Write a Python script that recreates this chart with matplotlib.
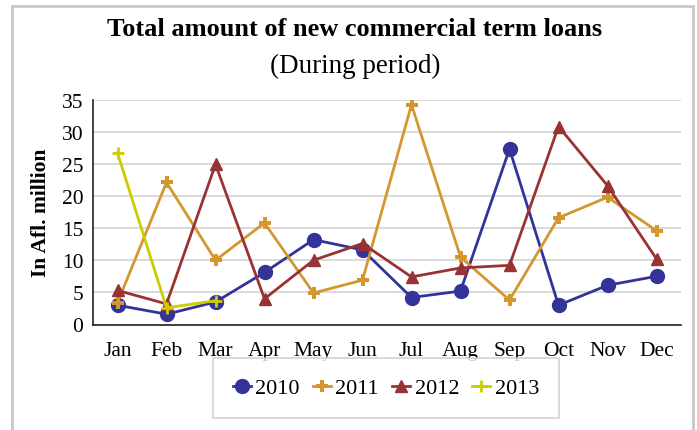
import matplotlib
matplotlib.use("Agg")
import matplotlib.pyplot as plt
from matplotlib.patches import Rectangle

months = ["Jan", "Feb", "Mar", "Apr", "May", "Jun", "Jul", "Aug", "Sep", "Oct", "Nov", "Dec"]
loans_2010 = [3.0, 1.6, 3.5, 8.1, 13.2, 11.6, 4.2, 5.2, 27.3, 3.0, 6.1, 7.5]
loans_2011 = [3.4, 22.1, 10.0, 15.8, 4.9, 6.9, 34.2, 10.5, 3.8, 16.6, 19.8, 14.6]
loans_2012 = [5.3, 3.2, 24.9, 4.0, 10.0, 12.6, 7.4, 8.8, 9.2, 30.8, 21.6, 10.2]
loans_2013 = [26.7, 2.6, 3.7]
yticks = [0, 5, 10, 15, 20, 25, 30, 35]

plt.rcParams["font.family"] = ["Liberation Serif", "DejaVu Serif"]

fig = plt.figure(figsize=(6.97, 4.31), dpi=100)
# outer frame of the chart area
fig.patches.append(Rectangle((12 / 697, -0.05), (693 - 12) / 697, 1.05 - 7 / 431,
                             transform=fig.transFigure, fill=False,
                             edgecolor="#c8c8c8", linewidth=2.0))

ax = fig.add_axes([93 / 697, (431 - 325.5) / 431, (681 - 93) / 697, (325.5 - 100.5) / 431])
x = list(range(len(months)))

ax.plot(x, loans_2010, color="#333399", marker="o", markersize=10, linewidth=2, label="2010")
ax.plot(x, loans_2011, color="#D4962E", marker="P", markersize=8, linewidth=2,
        markeredgewidth=0, label="2011")
ax.plot(x, loans_2012, color="#993333", marker="^", markersize=8, linewidth=2, label="2012")
ax.plot(x[:len(loans_2013)], loans_2013, color="#CCCC00", marker="+", markersize=8,
        markeredgewidth=2, linewidth=2, label="2013")

ax.set_xlim(-0.5, 11.5)
ax.set_ylim(0, 35)
ax.set_yticks(yticks)
ax.set_xticks(x)
ax.set_xticklabels(months)
ax.yaxis.grid(True, color="#d4d4d4", linewidth=1.2)
ax.set_axisbelow(True)
ax.tick_params(axis="y", length=0, labelsize=15.5, pad=7)
ax.tick_params(axis="x", length=0, labelsize=15.5, pad=12)
for side in ["top", "right"]:
    ax.spines[side].set_visible(False)
ax.spines["left"].set_color("#222222")
ax.spines["bottom"].set_color("#222222")
ax.spines["left"].set_linewidth(1.2)
ax.spines["bottom"].set_linewidth(1.2)
ax.set_ylabel("In Afl. million", fontsize=15.5, fontweight="bold", labelpad=8)

fig.text(355 / 697, 1 - 30 / 431, "Total amount of new commercial term loans",
         ha="center", va="center", fontsize=19, fontweight="bold")
fig.text(355 / 697, 1 - 66 / 431, "(During period)", ha="center", va="center", fontsize=19.5)

leg = fig.legend(loc="center", bbox_to_anchor=(386 / 697, 1 - 389 / 431), ncol=4,
                 fontsize=16, frameon=True, fancybox=False, edgecolor="#c8c8c8",
                 handlelength=0.8, handletextpad=0.2, columnspacing=0.6,
                 borderpad=0.9, borderaxespad=0)
leg.get_frame().set_linewidth(1.2)

fig.savefig("out.png", dpi=100)
